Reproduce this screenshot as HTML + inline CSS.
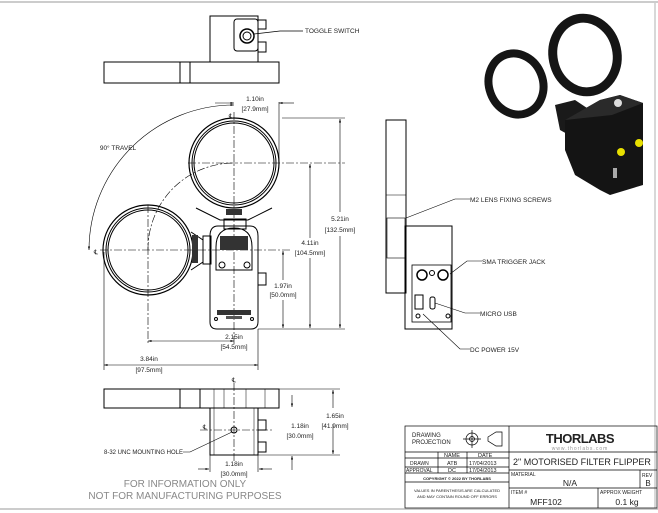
<!DOCTYPE html>
<html><head><meta charset="utf-8"><style>
html,body{margin:0;padding:0;background:#fff}
svg{display:block}
text{font-family:"Liberation Sans",sans-serif;fill:#222}
</style></head><body>
<svg width="658" height="513" viewBox="0 0 658 513" xmlns="http://www.w3.org/2000/svg">
<defs>
<marker id="a" viewBox="0 0 10 10" refX="10" refY="5" markerWidth="6" markerHeight="6" orient="auto-start-reverse"><path d="M0,2 L10,5 L0,8 z" fill="#000"/></marker>
</defs>
<rect x="0" y="0" width="658" height="513" fill="#fff"/>
<line x1="0" y1="2" x2="658" y2="2" stroke="#ccc" stroke-width="2"/>
<line x1="0" y1="509" x2="658" y2="509" stroke="#ccc" stroke-width="2"/>
<line x1="655" y1="2" x2="655" y2="509" stroke="#ccc" stroke-width="1.5"/>

<g fill="none" stroke="#000" stroke-width="1">
<rect x="104" y="62" width="175" height="21"/>
<line x1="180" y1="62" x2="180" y2="83"/><line x1="190" y1="62" x2="190" y2="83"/>
<rect x="210" y="16" width="48" height="46"/>
<rect x="234" y="19" width="24" height="32" rx="3"/>
<circle cx="247" cy="36" r="7" stroke-width="1.5"/><circle cx="247" cy="36" r="4"/>
<rect x="258" y="20" width="8" height="9"/><rect x="258" y="42" width="8" height="10"/>
<polyline points="254,34 280,31 303,31" stroke-width="0.7"/>

<circle cx="234" cy="163" r="45" stroke-width="1.2"/><circle cx="234" cy="163" r="42"/><circle cx="234" cy="163" r="40"/>
<circle cx="148" cy="250" r="45" stroke-width="1.2"/><circle cx="148" cy="250" r="42"/><circle cx="148" cy="250" r="40"/>
<path d="M196,208 L220,220 L248,220 L272,208"/>
<path d="M191,232 L203,240 L203,262 L191,270"/>
<rect x="224" y="219" width="22" height="10"/>
<rect x="203" y="236" width="8" height="28"/>
<path d="M210,236 L210,322 Q210,329 217,329 L251,329 Q258,329 258,322 L258,236 Q258,226 250,226 L218,226 Q210,226 210,236"/>
<path d="M216,270 L216,247 Q216,228 234,228 Q252,228 252,247 L252,270 Z"/>
<circle cx="222" cy="265" r="3"/><circle cx="247" cy="265" r="3"/>
<rect x="258" y="273" width="8" height="12"/>
<circle cx="216" cy="319" r="1.5"/><circle cx="252" cy="319" r="1.5"/>
</g>
<g stroke="#000" stroke-width="0.6" stroke-dasharray="8,2,2,2" fill="none">
<line x1="234" y1="112" x2="234" y2="345"/>
<line x1="188" y1="163" x2="345" y2="163"/>
<line x1="100" y1="250" x2="290" y2="250"/>
<line x1="148" y1="205" x2="148" y2="345"/>
<path d="M148,250 A86,86 0 0 1 234,163" />
<line x1="234" y1="383" x2="234" y2="462"/>
<line x1="200" y1="430" x2="272" y2="430"/>
</g>
<rect x="220" y="236" width="28" height="14" fill="#333"/>
<rect x="217" y="310" width="34" height="5" fill="#333"/>
<rect x="226" y="316" width="16" height="3" fill="#555"/>
<rect x="226" y="209" width="16" height="6" fill="#333"/>
<rect x="192" y="235" width="6" height="28" fill="#333"/>

<g stroke="#000" stroke-width="0.6" fill="none">
<path d="M234,105 A145,145 0 0 0 89,250" marker-start="url(#a)" marker-end="url(#a)"/>
<line x1="279" y1="102" x2="279" y2="163"/>
<line x1="215" y1="103" x2="234" y2="103" marker-end="url(#a)"/>
<line x1="294" y1="103" x2="279" y2="103" marker-end="url(#a)"/>
<line x1="282" y1="118" x2="345" y2="118"/>
<line x1="258" y1="329" x2="345" y2="329"/>
<line x1="340" y1="212" x2="340" y2="119" marker-end="url(#a)"/><line x1="340" y1="236" x2="340" y2="328" marker-end="url(#a)"/>
<line x1="310" y1="238" x2="310" y2="164" marker-end="url(#a)"/><line x1="310" y1="258" x2="310" y2="328" marker-end="url(#a)"/>
<line x1="283" y1="280" x2="283" y2="251" marker-end="url(#a)"/><line x1="283" y1="300" x2="283" y2="328" marker-end="url(#a)"/>
<line x1="104" y1="252" x2="104" y2="370"/><line x1="258" y1="329" x2="258" y2="370"/>
<line x1="148" y1="341" x2="234" y2="341" marker-start="url(#a)" marker-end="url(#a)"/>
<line x1="104" y1="365" x2="258" y2="365" marker-start="url(#a)" marker-end="url(#a)"/>
</g>
<g font-size="6.5" text-anchor="middle">
<text x="255" y="101">1.10in</text><text x="255" y="111">[27.9mm]</text>
<text x="118" y="150">90° TRAVEL</text>
<text x="340" y="221">5.21in</text><text x="340" y="232">[132.5mm]</text>
<text x="310" y="245">4.11in</text><text x="310" y="255">[104.5mm]</text>
<text x="283" y="288">1.97in</text><text x="283" y="297">[50.0mm]</text>
<text x="234" y="339">2.15in</text><text x="234" y="349">[54.5mm]</text>
<text x="149" y="361">3.84in</text><text x="149" y="372">[97.5mm]</text>
<text x="231" y="118">℄</text><text x="96" y="254">℄</text>
</g>
<text x="305" y="33" font-size="6.5">TOGGLE SWITCH</text>

<g fill="none" stroke="#000" stroke-width="1">
<rect x="386" y="120" width="20" height="173"/>
<line x1="386" y1="195" x2="406" y2="195" stroke-width="0.5"/>
<rect x="405" y="226" width="47" height="103"/>
<rect x="387" y="218" width="18" height="40" stroke-width="0.6"/>
<rect x="412" y="265" width="39" height="57" stroke-width="0.8"/>
<circle cx="422" cy="275" r="5" stroke-width="1.5"/><circle cx="443" cy="275" r="5" stroke-width="1.5"/>
<circle cx="432" cy="273" r="2.5"/>
<rect x="415" y="295" width="8" height="14"/><rect x="430" y="297" width="5" height="12" rx="2"/>
<circle cx="418" cy="316" r="2"/><circle cx="448" cy="316" r="2"/>
</g>
<g stroke="#000" stroke-width="0.6" fill="none">
<polyline points="406,218 455,199 470,199"/>
<polyline points="450,274 467,261 482,261"/>
<polyline points="435,303 465,313 480,313"/>
<polyline points="423,314 460,349 470,349"/>
</g>
<g font-size="6.5">
<text x="470" y="202">M2 LENS FIXING SCREWS</text>
<text x="482" y="264">SMA TRIGGER JACK</text>
<text x="480" y="316">MICRO USB</text>
<text x="470" y="352">DC POWER 15V</text>
</g>

<g fill="none" stroke="#000" stroke-width="1">
<rect x="104" y="389" width="175" height="19"/>
<line x1="180" y1="389" x2="180" y2="408"/><line x1="200" y1="389" x2="200" y2="408"/>
<line x1="214" y1="389" x2="214" y2="408" stroke-width="0.5"/><line x1="224" y1="389" x2="224" y2="408" stroke-width="0.5"/><line x1="246" y1="389" x2="246" y2="408" stroke-width="0.5"/><line x1="265" y1="389" x2="265" y2="408" stroke-width="0.5"/>
<rect x="210" y="408" width="48" height="47"/>
<line x1="214" y1="408" x2="214" y2="455" stroke-width="0.5"/><line x1="254" y1="408" x2="254" y2="455" stroke-width="0.5"/>
<rect x="258" y="420" width="8" height="10"/><rect x="258" y="442" width="8" height="10"/>
<circle cx="234" cy="430" r="3"/>
</g>
<g stroke="#000" stroke-width="0.6" fill="none">
<polyline points="183,452 190,452 232,432"/>
<line x1="279" y1="389" x2="340" y2="389"/><line x1="258" y1="455" x2="340" y2="455"/>
<line x1="333" y1="408" x2="333" y2="390" marker-end="url(#a)"/><line x1="333" y1="424" x2="333" y2="454" marker-end="url(#a)"/>
<line x1="292" y1="395" x2="292" y2="407" marker-end="url(#a)"/>
<line x1="292" y1="470" x2="292" y2="456" marker-end="url(#a)"/>
<line x1="210" y1="455" x2="210" y2="472"/><line x1="258" y1="455" x2="258" y2="472"/>
<line x1="198" y1="469" x2="209" y2="469" marker-end="url(#a)"/><line x1="272" y1="469" x2="259" y2="469" marker-end="url(#a)"/>
</g>
<g font-size="6.5" text-anchor="middle">
<text x="234" y="382">℄</text><text x="205" y="429">℄</text>
<text x="300" y="428">1.18in</text><text x="300" y="438">[30.0mm]</text>
<text x="335" y="418">1.65in</text><text x="335" y="428">[41.9mm]</text>
<text x="234" y="466">1.18in</text><text x="234" y="476">[30.0mm]</text>
</g>
<text x="183" y="454" font-size="6" text-anchor="end">8-32 UNC MOUNTING HOLE</text>
<g font-size="10" text-anchor="middle">
<text x="185" y="487" style="fill:#888">FOR INFORMATION ONLY</text>
<text x="185" y="499" style="fill:#888">NOT FOR MANUFACTURING PURPOSES</text>
</g>

<!-- 3D render -->
<g>
<ellipse cx="516" cy="84" rx="27" ry="31" transform="rotate(-20 516 84)" fill="none" stroke="#151515" stroke-width="8"/>
<ellipse cx="585" cy="55" rx="32" ry="37" transform="rotate(-12 585 55)" fill="none" stroke="#151515" stroke-width="9"/>
<path d="M555,105 L575,100 L590,110 L578,140 L560,130 Z" fill="#1a1a1a"/>
<path d="M565,120 L600,100 L620,95 L643,103 L643,185 L610,195 L600,190 L575,175 L565,150 Z" fill="#141414"/>
<path d="M565,120 L600,100 L620,95 L643,103 L612,115 Z" fill="#2a2a2a"/>
<circle cx="618" cy="103" r="4" fill="#ddd"/>
<circle cx="621" cy="152" r="4" fill="#e8e000"/><circle cx="639" cy="143" r="4" fill="#e8e000"/>
<rect x="613" y="168" width="4" height="10" fill="#aaa"/>
</g>

<g fill="none" stroke="#000" stroke-width="0.7">
<rect x="405" y="426" width="252" height="82"/>
<line x1="509" y1="426" x2="509" y2="508"/>
<line x1="405" y1="452" x2="657" y2="452"/>
<line x1="405" y1="458" x2="509" y2="458"/>
<line x1="405" y1="467" x2="509" y2="467"/>
<line x1="405" y1="473" x2="509" y2="473"/>
<line x1="405" y1="482" x2="509" y2="482"/>
<line x1="438" y1="452" x2="438" y2="473"/><line x1="467" y1="452" x2="467" y2="473"/>
<line x1="509" y1="470" x2="657" y2="470"/>
<line x1="509" y1="488" x2="657" y2="488"/>
<line x1="640" y1="470" x2="640" y2="488"/>
<line x1="598" y1="488" x2="598" y2="508"/>
<circle cx="472" cy="439" r="6"/><circle cx="472" cy="439" r="2.5"/>
<line x1="463" y1="439" x2="481" y2="439"/><line x1="472" y1="430" x2="472" y2="448"/>
<path d="M488,437 L496,432 L502,432 L502,446 L496,446 L488,441 Z"/>
</g>
<g font-size="6">
<text x="412" y="437">DRAWING</text><text x="412" y="444">PROJECTION</text>
<text x="444" y="457" font-size="5.5">NAME</text><text x="478" y="457" font-size="5.5">DATE</text>
<text x="410" y="465" font-size="5">DRAWN</text><text x="447" y="465" font-size="5.5">ATB</text><text x="469" y="465" font-size="5.5">17/04/2013</text>
<text x="406" y="472" font-size="5">APPROVAL</text><text x="448" y="472" font-size="5.5">DC</text><text x="469" y="472" font-size="5.5">17/04/2013</text>
<text x="457" y="480" font-size="4" text-anchor="middle" font-weight="bold">COPYRIGHT © 2022 BY THORLABS</text>
<text x="457" y="492" font-size="4" text-anchor="middle">VALUES IN PARENTHESIS ARE CALCULATED</text>
<text x="457" y="498" font-size="4" text-anchor="middle">AND MAY CONTAIN ROUND OFF ERRORS</text>
<text x="580" y="443" font-size="13" font-weight="bold" text-anchor="middle" letter-spacing="-0.5">THORLABS</text>
<text x="580" y="450" font-size="5" text-anchor="middle" style="fill:#999" letter-spacing="1">www.thorlabs.com</text>
<text x="582" y="465" font-size="9" text-anchor="middle">2" MOTORISED FILTER FLIPPER</text>
<text x="511" y="476" font-size="5">MATERIAL</text>
<text x="570" y="486" font-size="8.5" text-anchor="middle">N/A</text>
<text x="642" y="477" font-size="5">REV</text><text x="648" y="486" font-size="8" text-anchor="middle">B</text>
<text x="511" y="494" font-size="5">ITEM #</text>
<text x="546" y="505" font-size="8.5" text-anchor="middle">MFF102</text>
<text x="600" y="494" font-size="5">APPROX WEIGHT</text>
<text x="627" y="505" font-size="8.5" text-anchor="middle">0.1 kg</text>
</g>
</svg>
</body></html>
